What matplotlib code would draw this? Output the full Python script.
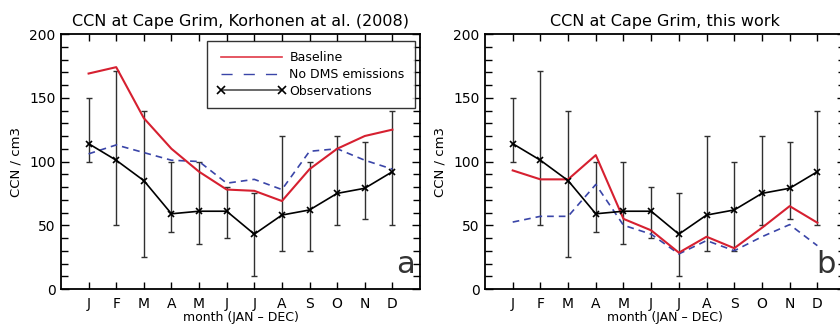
import matplotlib
matplotlib.use("Agg")
import matplotlib.pyplot as plt
from matplotlib.lines import Line2D
from matplotlib.ticker import MultipleLocator
import numpy as np

months = np.arange(1, 13)
month_labels = ['J', 'F', 'M', 'A', 'M', 'J', 'J', 'A', 'S', 'O', 'N', 'D']

# observations (same in both panels)
obs = [114, 101, 85, 59, 61, 61, 43, 58, 62, 75, 79, 92]
obs_hi = [150, 171, 140, 100, 100, 80, 75, 120, 100, 120, 115, 140]
obs_lo = [100, 50, 25, 45, 35, 40, 10, 30, 30, 50, 55, 50]

# Korhonen et al. (2008)
base_a = [169, 174, 134, 110, 92, 78, 77, 69, 94, 110, 120, 125]
nodms_a = [106, 113, 107, 101, 100, 83, 86, 78, 108, 110, 101, 94]

# this work
base_b = [93, 86, 86, 105, 55, 46, 28.5, 41, 32, 48, 65, 52]
nodms_b = [52.5, 57, 57, 82, 50, 43, 27.5, 38, 30, 41, 50.5, 34]

red = '#d62030'
blue = '#3a45a8'

plt.rcParams['font.family'] = 'DejaVu Sans'
fig = plt.figure(figsize=(8.4, 3.27), dpi=100)
ax_a = fig.add_axes([0.0726, 0.1162, 0.4274, 0.7798])
ax_b = fig.add_axes([0.5774, 0.1162, 0.4286, 0.7798])


def draw_panel(ax, base, nodms, title, letter):
    obs_arr = np.array(obs)
    yerr = [obs_arr - np.array(obs_lo), np.array(obs_hi) - obs_arr]
    ax.errorbar(months, obs, yerr=yerr, fmt='none', ecolor='#303030',
                elinewidth=1.0, capsize=2, capthick=1.0, zorder=2)
    ax.plot(months, nodms, color=blue, lw=1.2, ls=(0, (4, 3)), zorder=3)
    ax.plot(months, base, color=red, lw=1.5, zorder=4)
    ax.plot(months, obs, color='black', lw=1.2, marker='x', ms=4,
            mew=1.2, zorder=5)

    ax.set_xlim(0, 13)
    ax.set_ylim(0, 200)
    ax.set_xticks(months)
    ax.set_xticklabels(month_labels, fontsize=9)
    ax.yaxis.set_major_locator(MultipleLocator(50))
    ax.yaxis.set_minor_locator(MultipleLocator(10))
    ax.tick_params(axis='both', which='both', direction='in', top=True,
                   right=True, labelsize=10, width=1.0)
    ax.tick_params(axis='x', which='major', length=5, pad=6)
    ax.tick_params(axis='y', which='major', length=6, pad=4)
    ax.tick_params(axis='y', which='minor', length=5)
    for sp in ax.spines.values():
        sp.set_linewidth(1.3)
    ax.set_title(title, fontsize=11.5, pad=6)
    ax.set_xlabel('month (JAN \u2013 DEC)', fontsize=9, labelpad=0)
    ax.set_ylabel('CCN / cm3', fontsize=9.5, labelpad=5)
    ax.text(0.985, 0.04, letter, transform=ax.transAxes, fontsize=22,
            color='#333333', ha='right', va='bottom')


draw_panel(ax_a, base_a, nodms_a,
           'CCN at Cape Grim, Korhonen at al. (2008)', 'a')
draw_panel(ax_b, base_b, nodms_b, 'CCN at Cape Grim, this work', 'b')
ax_b.texts[-1].set_x(0.975)

handles = [
    Line2D([], [], color='#e03a48', lw=1.2),
    Line2D([], [], color=blue, lw=1.0, ls=(0, (8, 8))),
    Line2D([], [], color='#505050', lw=1.2, marker='x', ms=6, mew=1.2,
           markeredgecolor='black'),
]
leg = ax_a.legend(handles, ['Baseline', 'No DMS emissions', 'Observations'],
                  loc='upper right', bbox_to_anchor=(0.985, 0.972),
                  fontsize=9, handlelength=5.5, handletextpad=0.3,
                  numpoints=2, fancybox=False, borderpad=0.8,
                  labelspacing=0.3, borderaxespad=0)
leg.get_frame().set_edgecolor('black')
leg.get_frame().set_linewidth(1.0)
leg.set_zorder(10)

fig.savefig('out.png', dpi=100)
